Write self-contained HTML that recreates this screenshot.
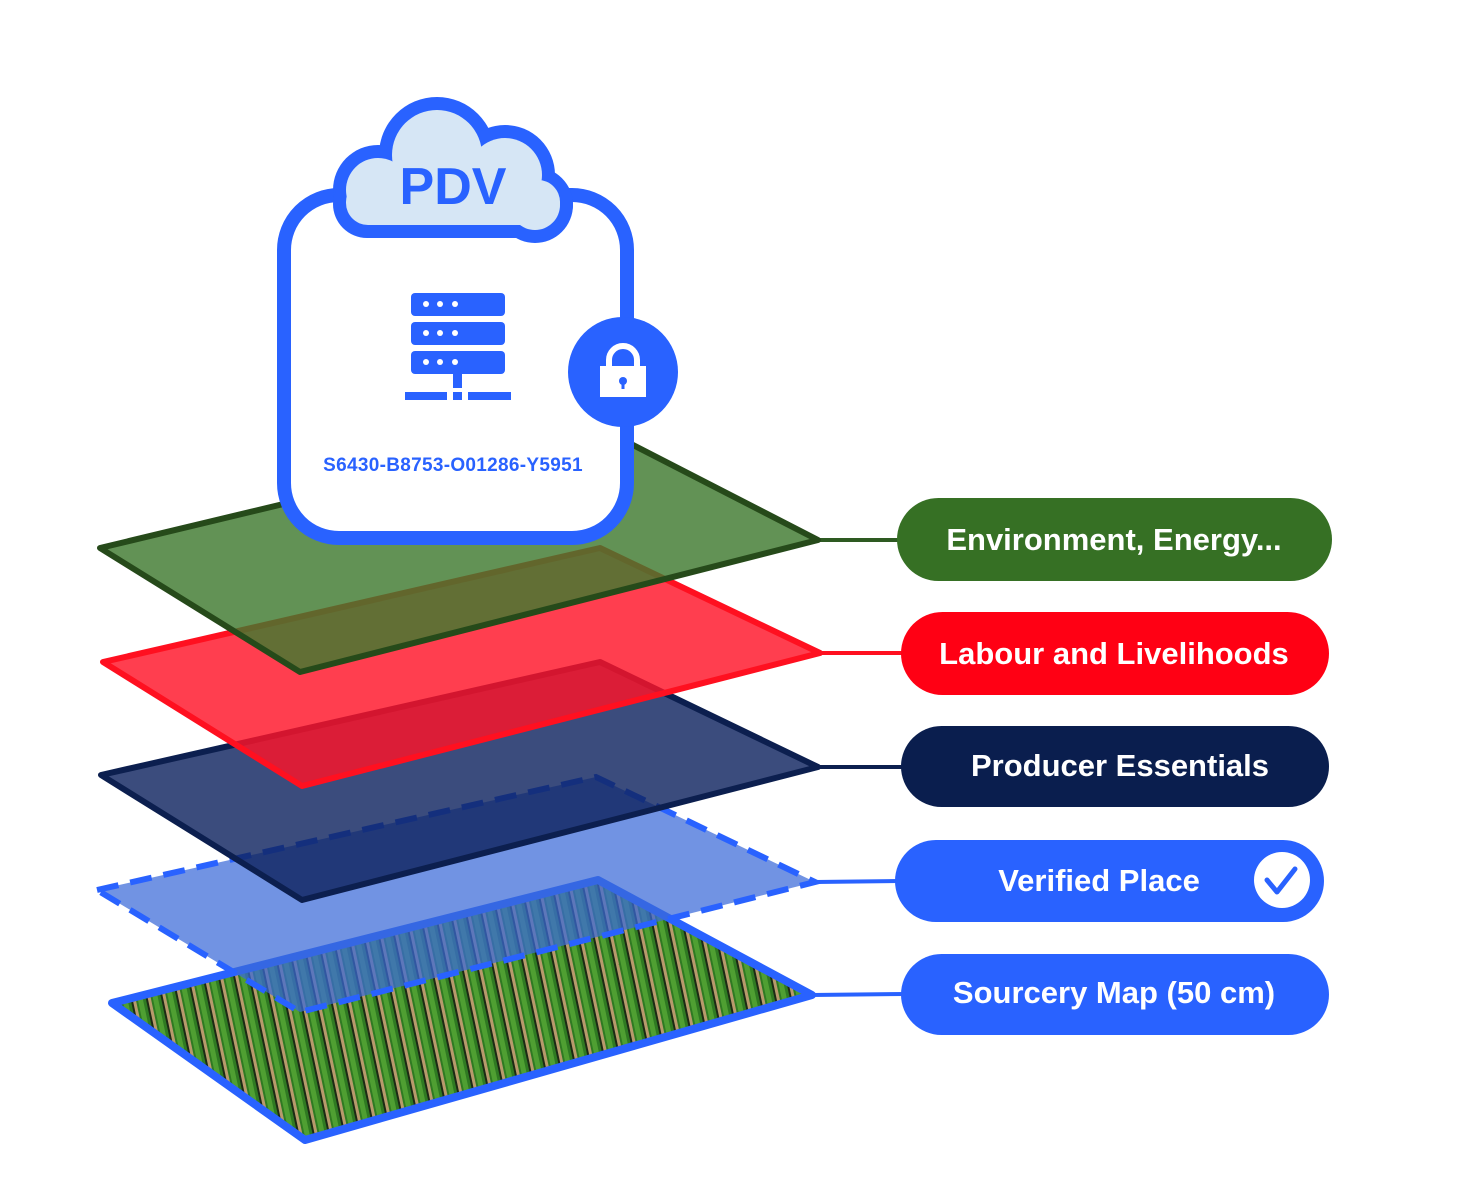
<!DOCTYPE html>
<html><head><meta charset="utf-8"><style>
html,body{margin:0;padding:0;background:#fff}
svg{display:block}
text{font-family:"Liberation Sans",sans-serif;font-weight:bold}
</style></head><body>
<svg width="1470" height="1183" viewBox="0 0 1470 1183" xmlns="http://www.w3.org/2000/svg">
<defs>
<pattern id="rows" patternUnits="userSpaceOnUse" width="15" height="40" patternTransform="rotate(-12)">
<rect width="15" height="40" fill="#b89a6c"/>
<rect x="0" width="10" height="40" fill="#2f7a22"/>
<rect x="2" width="5" height="40" fill="#4f9f32"/>
<rect x="10" width="2" height="40" fill="#1c2a14"/>
</pattern>
</defs>

<line x1="812" y1="995" x2="905" y2="994" stroke="#2962ff" stroke-width="4"/>
<line x1="815" y1="882" x2="900" y2="881" stroke="#2962ff" stroke-width="4"/>
<line x1="818" y1="767" x2="905" y2="767" stroke="#0c1f4f" stroke-width="4"/>
<line x1="820" y1="653" x2="905" y2="653" stroke="#ff1020" stroke-width="4"/>
<line x1="818" y1="540" x2="900" y2="540" stroke="#2e5a22" stroke-width="4"/>

<polygon points="112,1003 598,880 812,995 305,1140" fill="url(#rows)" stroke="#2962ff" stroke-width="8" stroke-linejoin="round"/>
<polygon points="97,890 596,777 815,882 300,1012" fill="#3a6ad8" fill-opacity="0.72" stroke="#2962ff" stroke-width="6" stroke-dasharray="22,12"/>
<polygon points="101,775 600,662 818,767 302,900" fill="#102560" fill-opacity="0.82" stroke="#0c1f4f" stroke-width="6" stroke-linejoin="round"/>
<polygon points="103,662 600,548 820,653 302,786" fill="#ff1428" fill-opacity="0.82" stroke="#ff1020" stroke-width="6" stroke-linejoin="round"/>
<polygon points="100,548 600,428 818,540 300,672" fill="#3f7a30" fill-opacity="0.82" stroke="#264a1a" stroke-width="6" stroke-linejoin="round"/>

<rect x="284" y="195" width="343" height="343" rx="55" fill="#fff" stroke="#2962ff" stroke-width="14"/>
<g fill="#2962ff">
<circle cx="437" cy="155" r="58"/><circle cx="505" cy="175" r="50"/><circle cx="535" cy="205" r="38"/><circle cx="378" cy="190" r="45"/>
<rect x="333" y="170" width="240" height="68" rx="34"/>
</g>
<g fill="#d6e6f5">
<circle cx="437" cy="155" r="45"/><circle cx="505" cy="175" r="37"/><circle cx="535" cy="205" r="25"/><circle cx="378" cy="190" r="32"/>
<rect x="346" y="180" width="214" height="45" rx="22"/>
</g>
<text x="453" y="204" font-size="52" fill="#2962ff" text-anchor="middle">PDV</text>
<g fill="#2962ff">
<rect x="411" y="293" width="94" height="23" rx="4"/>
<rect x="411" y="322" width="94" height="23" rx="4"/>
<rect x="411" y="351" width="94" height="23" rx="4"/>
<rect x="453" y="373" width="9" height="15"/>
<rect x="405" y="392" width="42" height="8"/><rect x="453" y="392" width="9" height="8"/><rect x="468" y="392" width="43" height="8"/>
</g>
<g fill="#fff">
<circle cx="426" cy="304" r="3"/><circle cx="440" cy="304" r="3"/><circle cx="455" cy="304" r="3"/>
<circle cx="426" cy="333" r="3"/><circle cx="440" cy="333" r="3"/><circle cx="455" cy="333" r="3"/>
<circle cx="426" cy="362" r="3"/><circle cx="440" cy="362" r="3"/><circle cx="455" cy="362" r="3"/>
</g>
<text x="453" y="471" font-size="19" fill="#2962ff" text-anchor="middle" letter-spacing="0.3">S6430-B8753-O01286-Y5951</text>
<circle cx="623" cy="372" r="55" fill="#2962ff"/>
<path d="M609,368 v-8 a14,14 0 0 1 28,0 v8" fill="none" stroke="#fff" stroke-width="6"/>
<rect x="600" y="366" width="46" height="31" fill="#fff"/>
<circle cx="623" cy="381" r="4" fill="#2962ff"/><rect x="621.5" y="381" width="3" height="8" fill="#2962ff"/>

<rect x="897" y="498" width="435" height="83" rx="41.5" fill="#367024"/>
<text x="1114" y="550" font-size="31" fill="#fff" text-anchor="middle">Environment, Energy...</text>
<rect x="901" y="612" width="428" height="83" rx="41.5" fill="#ff0014"/>
<text x="1114" y="664" font-size="31" fill="#fff" text-anchor="middle">Labour and Livelihoods</text>
<rect x="901" y="726" width="428" height="81" rx="40.5" fill="#0a1e4e"/>
<text x="1120" y="776" font-size="31" fill="#fff" text-anchor="middle">Producer Essentials</text>
<rect x="895" y="840" width="429" height="82" rx="41" fill="#2962ff"/>
<text x="1099" y="891" font-size="31" fill="#fff" text-anchor="middle">Verified Place</text>
<circle cx="1282" cy="880" r="28" fill="#fff"/>
<path d="M1267,880 l10,12 l18,-23" fill="none" stroke="#2962ff" stroke-width="5" stroke-linecap="round" stroke-linejoin="round"/>
<rect x="901" y="954" width="428" height="81" rx="40.5" fill="#2962ff"/>
<text x="1114" y="1003" font-size="31" fill="#fff" text-anchor="middle">Sourcery Map (50 cm)</text>
</svg>
</body></html>
